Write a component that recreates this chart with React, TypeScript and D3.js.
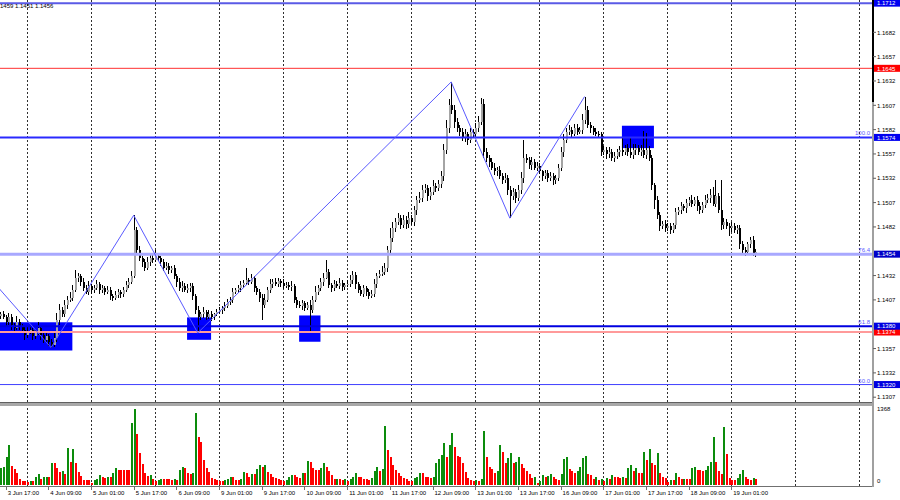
import * as d3 from "d3";

// EURUSD H1, prices kept in pips above 1.1000 (1456 -> 1.1456)
const firstOpen = 1390;
const closes = [
  1392, 1389, 1384, 1389, 1381, 1378, 1384, 1380, 1376, 1371, 1374, 1376, 1370, 1373, 1378, 1371, 1366, 1370, 1364, 1361, 1368, 1386, 1397, 1392,
  1402, 1407, 1409, 1417, 1430, 1432, 1425, 1419, 1415, 1421, 1417, 1419, 1423, 1417, 1419, 1415, 1417, 1411, 1409, 1412, 1415, 1413, 1417, 1422,
  1425, 1432, 1479, 1458, 1450, 1446, 1440, 1446, 1450, 1448, 1452, 1450, 1446, 1440, 1442, 1438, 1440, 1432, 1425, 1419, 1421, 1417, 1419, 1421,
  1411, 1397, 1389, 1392, 1395, 1389, 1393, 1389, 1392, 1395, 1397, 1399, 1401, 1405, 1407, 1415, 1417, 1419, 1422, 1424, 1427, 1425, 1429, 1419,
  1415, 1409, 1402, 1407, 1417, 1423, 1425, 1423, 1426, 1424, 1421, 1422, 1420, 1421, 1407, 1402, 1401, 1404, 1399, 1402, 1397, 1407, 1415, 1419,
  1425, 1430, 1436, 1422, 1419, 1423, 1421, 1424, 1420, 1422, 1423, 1427, 1433, 1423, 1417, 1413, 1419, 1415, 1411, 1413, 1423, 1432, 1434, 1436,
  1440, 1458, 1471, 1481, 1487, 1491, 1484, 1489, 1485, 1491, 1487, 1499, 1510, 1512, 1520, 1522, 1514, 1518, 1524, 1522, 1526, 1534, 1561, 1584,
  1607, 1602, 1590, 1584, 1580, 1573, 1577, 1571, 1580, 1578, 1584, 1590, 1608, 1559, 1553, 1549, 1543, 1539, 1541, 1534, 1530, 1532, 1520, 1514,
  1518, 1512, 1520, 1532, 1553, 1551, 1546, 1549, 1543, 1545, 1539, 1534, 1537, 1532, 1534, 1530, 1532, 1543, 1559, 1571, 1580, 1582, 1578, 1584,
  1580, 1582, 1592, 1602, 1587, 1584, 1580, 1578, 1577, 1559, 1561, 1557, 1559, 1553, 1555, 1559, 1561, 1559, 1563, 1559, 1556, 1561, 1563, 1559,
  1561, 1556, 1561, 1553, 1525, 1510, 1494, 1483, 1485, 1481, 1483, 1479, 1484, 1497, 1499, 1503, 1501, 1507, 1510, 1506, 1510, 1503, 1499, 1505,
  1510, 1512, 1515, 1506, 1514, 1499, 1484, 1487, 1483, 1481, 1483, 1479, 1481, 1464, 1458, 1456, 1464, 1469, 1455, 1456,
];
// wick lengths above / below the body, pips
const upWick = [
  3, 4, 2, 5, 3, 2, 6, 3, 2, 3, 5, 4, 2, 3, 6, 2, 3, 4, 2, 3, 5, 8, 6, 3,
  5, 4, 6, 5, 8, 3, 2, 4, 3, 5, 2, 3, 4, 2, 3, 2, 4, 3, 2, 4, 3, 2, 3, 4,
  4, 5, 15, 3, 4, 2, 3, 5, 4, 3, 6, 3, 2, 3, 4, 3, 2, 3, 2, 4, 5, 3, 4, 3,
  3, 2, 4, 3, 5, 2, 4, 3, 2, 3, 3, 2, 4, 3, 3, 4, 2, 3, 4, 3, 13, 3, 5, 3,
  2, 3, 4, 6, 3, 5, 3, 4, 3, 2, 4, 3, 3, 5, 2, 3, 4, 3, 2, 3, 5, 4, 6, 3,
  4, 5, 12, 3, 2, 4, 3, 5, 3, 2, 4, 6, 4, 3, 2, 4, 3, 2, 3, 4, 5, 3, 4, 6,
  5, 4, 10, 6, 4, 5, 3, 5, 4, 6, 3, 5, 4, 6, 5, 4, 3, 5, 6, 3, 4, 5, 6, 8,
  6, 24, 5, 4, 3, 4, 6, 3, 4, 3, 5, 6, 6, 5, 4, 3, 4, 5, 3, 4, 3, 5, 3, 4,
  4, 3, 5, 6, 18, 4, 3, 5, 3, 4, 3, 2, 4, 3, 4, 3, 3, 4, 5, 6, 4, 5, 3, 4,
  4, 3, 6, 14, 4, 3, 2, 4, 3, 3, 4, 3, 5, 3, 4, 3, 4, 12, 3, 4, 14, 6, 4, 3,
  5, 20, 18, 4, 3, 2, 4, 3, 3, 4, 3, 3, 2, 4, 3, 5, 3, 4, 3, 5, 3, 4, 5, 3,
  5, 4, 6, 8, 16, 3, 31, 4, 3, 3, 4, 3, 3, 3, 4, 3, 2, 3, 4, 3,
];
const dnWick = [
  3, 2, 4, 3, 5, 3, 2, 4, 3, 5, 3, 2, 4, 3, 2, 5, 3, 2, 4, 3, 2, 4, 5, 3,
  3, 4, 2, 3, 2, 5, 4, 3, 2, 3, 4, 3, 2, 4, 3, 3, 2, 4, 3, 2, 3, 4, 3, 2,
  3, 2, 3, 4, 3, 5, 3, 2, 4, 3, 2, 3, 4, 3, 2, 4, 3, 4, 5, 3, 4, 2, 3, 4,
  4, 5, 16, 3, 4, 3, 2, 4, 3, 2, 3, 4, 3, 2, 3, 3, 2, 3, 4, 3, 2, 3, 2, 4,
  3, 4, 16, 3, 2, 3, 4, 2, 3, 4, 3, 2, 3, 4, 3, 3, 2, 4, 3, 2, 24, 3, 2, 3,
  3, 4, 2, 3, 4, 3, 2, 3, 4, 3, 2, 3, 4, 5, 3, 2, 3, 4, 3, 2, 3, 4, 3, 2,
  3, 4, 3, 5, 4, 3, 4, 3, 5, 4, 3, 4, 5, 3, 4, 3, 5, 4, 3, 4, 3, 4, 5, 4,
  5, 4, 6, 4, 5, 3, 4, 5, 3, 4, 5, 4, 3, 6, 4, 5, 3, 4, 5, 3, 4, 3, 5, 23,
  4, 5, 3, 4, 5, 3, 4, 5, 3, 4, 3, 5, 3, 4, 3, 5, 4, 3, 4, 5, 3, 4, 5, 3,
  4, 3, 5, 4, 3, 5, 4, 3, 4, 4, 3, 5, 4, 3, 4, 3, 5, 4, 3, 4, 3, 4, 5, 3,
  4, 3, 4, 3, 5, 10, 4, 5, 3, 4, 3, 4, 3, 4, 3, 4, 3, 5, 3, 4, 3, 5, 4, 3,
  4, 3, 5, 3, 4, 3, 5, 4, 3, 8, 4, 3, 4, 5, 3, 4, 3, 4, 3, 4,
];
const volumes = [
  293, 322, 497, 702, 333, 275, 205, 99, 76, 76, 59, 76, 76, 146, 193, 111, 135, 146, 146, 380, 380, 293, 234, 252,
  193, 644, 410, 626, 392, 234, 158, 88, 88, 88, 41, 88, 99, 170, 146, 123, 146, 135, 216, 293, 263, 263, 263, 263,
  263, 1094, 1328, 895, 556, 369, 216, 158, 170, 99, 76, 88, 111, 111, 99, 99, 88, 99, 88, 263, 322, 293, 216, 193,
  216, 1269, 848, 760, 439, 293, 234, 117, 105, 88, 76, 76, 88, 99, 135, 135, 88, 88, 99, 234, 216, 146, 193, 193,
  275, 351, 322, 351, 234, 193, 146, 123, 99, 88, 76, 88, 135, 176, 176, 135, 117, 205, 205, 427, 410, 293, 263, 263,
  293, 392, 322, 252, 176, 99, 111, 99, 88, 99, 64, 99, 135, 216, 146, 135, 111, 99, 88, 117, 252, 322, 252, 275,
  1035, 614, 486, 345, 263, 205, 158, 117, 111, 76, 64, 117, 146, 216, 216, 146, 135, 117, 146, 380, 450, 527, 731, 486,
  700, 907, 661, 509, 497, 392, 234, 117, 88, 76, 88, 76, 99, 948, 497, 310, 275, 216, 246, 702, 585, 380, 468, 556,
  380, 410, 497, 369, 293, 252, 193, 117, 146, 41, 76, 176, 146, 158, 193, 146, 111, 88, 193, 450, 497, 275, 252, 205,
  246, 322, 468, 509, 193, 176, 111, 135, 88, 99, 76, 117, 111, 170, 135, 135, 117, 135, 123, 293, 351, 252, 293, 205,
  205, 585, 439, 626, 392, 351, 556, 216, 135, 117, 59, 88, 88, 216, 146, 99, 111, 99, 99, 304, 322, 263, 263, 252,
  263, 333, 410, 837, 404, 252, 193, 1024, 544, 117, 88, 88, 117, 193, 263, 146, 111, 88, 123, 111,
];
const volumeMax = 1368;

const timeLabels = [
  "3 Jun 17:00", "4 Jun 09:00", "5 Jun 01:00", "5 Jun 17:00", "6 Jun 09:00", "9 Jun 01:00",
  "9 Jun 17:00", "10 Jun 09:00", "11 Jun 01:00", "11 Jun 17:00", "12 Jun 09:00", "13 Jun 01:00",
  "13 Jun 17:00", "16 Jun 09:00", "17 Jun 01:00", "17 Jun 17:00", "18 Jun 09:00", "19 Jun 01:00",
];
const priceTicks = [1707, 1682, 1657, 1632, 1607, 1582, 1557, 1532, 1507, 1482, 1457, 1432, 1407, 1382, 1357, 1332, 1307];

const levelPrices = [1712, 1645, 1574, 1454, 1380, 1374, 1320];
const levelKinds = ["top", "resist", "fib100", "fib76", "fib61", "support", "fib50"];
const fiboTexts = ["", "", "100.0", "76.4", "61.8", "", "50.0"];

const zigzagBars = [-6, 19, 50, 74, 169, 191, 219];
const zigzagPrices = [1436, 1358, 1494, 1373, 1631, 1491, 1616];

const boxBars = [[-2, 27], [70, 79], [112, 120], [233, 245]];
const boxPrices = [[1384, 1355], [1389, 1366], [1391, 1364], [1586, 1563]];

const header = "1459 1.1451 1.1456";

const levelStyle: Record<string, { stroke: string; width: number; box: string }> = {
  top: { stroke: "#5a5ae6", width: 2, box: "#0000f0" },
  resist: { stroke: "#ff3030", width: 1, box: "#ff0000" },
  fib100: { stroke: "#2a2aff", width: 2, box: "#0000f0" },
  fib76: { stroke: "#a8a8ff", width: 3, box: "#0000c8" },
  fib61: { stroke: "#0000e0", width: 2, box: "#0000e0" },
  support: { stroke: "#ff9a9a", width: 2, box: "#ff0000" },
  fib50: { stroke: "#4040ff", width: 1, box: "#0000e0" },
};

const FONT = "'Liberation Sans', Arial, sans-serif";
const AXIS_X = 873;
const PRICE_BOTTOM = 402;
const VOL_TOP = 406;
const VOL_BASE = 485;

const fmt = (p: number) => (1 + p / 10000).toFixed(4);

export default function App() {
  const n = closes.length;
  const x = d3.scaleLinear().domain([0, n - 1]).range([0.33, 755.3]);
  const y = d3.scaleLinear().domain([1307, 1707]).range([397.2, 8]);
  const yv = d3.scaleLinear().domain([0, volumeMax]).range([VOL_BASE, VOL_TOP + 1]);

  const candles = closes.map((c, i) => {
    const o = i === 0 ? firstOpen : closes[i - 1];
    return { i, o, c, h: Math.max(o, c) + upWick[i], l: Math.min(o, c) - dnWick[i] };
  });

  const gridBars = d3.range(10, n + 60, 24).filter((b) => x(b) < 860);
  const labelBars = timeLabels.map((_, k) => 2 + 16 * k);

  const zigzag = d3
    .line<number>()
    .x((_, k) => x(zigzagBars[k]))
    .y((p) => y(p));

  const levelYs = levelPrices.map((p) => y(p));
  const freeTicks = priceTicks.filter((p) => levelYs.every((ly) => Math.abs(ly - y(p)) > 6));

  const boxOrder = d3.range(levelPrices.length).reverse();

  return (
    <div style={{ position: "absolute", left: 0, top: 0 }}>
      <svg width={900} height={500} style={{ display: "block", background: "#fff" }} fontFamily={FONT}>
        <defs>
          <clipPath id="price-clip">
            <rect x={0} y={0} width={AXIS_X - 1} height={PRICE_BOTTOM} />
          </clipPath>
          <clipPath id="vol-clip">
            <rect x={0} y={VOL_TOP} width={AXIS_X - 1} height={VOL_BASE - VOL_TOP + 1} />
          </clipPath>
        </defs>

        {/* dashed day grid through both panels */}
        {gridBars.map((b) => (
          <line key={`g${b}`} x1={Math.round(x(b)) + 0.5} x2={Math.round(x(b)) + 0.5} y1={0} y2={486}
            stroke="#303030" strokeDasharray="2,2" strokeWidth={1} />
        ))}

        <g clipPath="url(#price-clip)">
          {boxBars.map((bb, k) => (
            <rect key={`b${k}`} x={x(bb[0])} y={y(boxPrices[k][0])} width={x(bb[1]) - x(bb[0])}
              height={y(boxPrices[k][1]) - y(boxPrices[k][0])} fill="#0000ff" />
          ))}

          <g shapeRendering="crispEdges">
            {candles.map((d) => {
              const cx = Math.round(x(d.i));
              const top = y(Math.max(d.o, d.c));
              const bot = y(Math.min(d.o, d.c));
              return (
                <g key={`c${d.i}`}>
                  <line x1={cx + 0.5} x2={cx + 0.5} y1={y(d.h)} y2={y(d.l)} stroke="#000" strokeWidth={1} />
                  <rect x={cx - 0.5} y={top} width={2} height={Math.max(1, bot - top)}
                    fill={d.c >= d.o ? "#a4a4a4" : "#000"} />
                </g>
              );
            })}
          </g>

          {levelPrices.map((p, k) => {
            const st = levelStyle[levelKinds[k]];
            return (
              <line key={`l${k}`} x1={0} x2={AXIS_X} y1={y(p)} y2={y(p)} stroke={st.stroke} strokeWidth={st.width} />
            );
          })}

          <path d={zigzag(zigzagPrices) ?? ""} fill="none" stroke="#5a5aff" strokeWidth={1} />

          {levelPrices.map((p, k) =>
            fiboTexts[k] ? (
              <text key={`f${k}`} x={870} y={y(p) - 2} fontSize={6} textAnchor="end" fill="#5a5aff">
                {fiboTexts[k]}
              </text>
            ) : null
          )}
        </g>

        <text x={0} y={8} fontSize={6} fill="#000">{header}</text>

        {/* panel separator */}
        <rect x={0} y={PRICE_BOTTOM} width={AXIS_X} height={VOL_TOP - PRICE_BOTTOM} fill="#a8a8a8" />
        <line x1={0} x2={AXIS_X} y1={PRICE_BOTTOM + 0.5} y2={PRICE_BOTTOM + 0.5} stroke="#606060" />

        <g clipPath="url(#vol-clip)" shapeRendering="crispEdges">
          {volumes.map((v, i) => (
            <rect key={`v${i}`} x={Math.round(x(i)) - 0.5} y={yv(v)} width={2} height={VOL_BASE - yv(v)}
              fill={i > 0 && v > volumes[i - 1] ? "#0c8c0c" : i === 0 ? "#0c8c0c" : "#ff0000"} />
          ))}
        </g>

        {/* bottom time axis */}
        <line x1={0} x2={AXIS_X} y1={486.5} y2={486.5} stroke="#707070" strokeWidth={1} />
        {labelBars.map((b, k) => (
          <g key={`t${k}`}>
            <line x1={Math.round(x(b)) + 0.5} x2={Math.round(x(b)) + 0.5} y1={487} y2={490} stroke="#707070" />
            <text x={x(b) + 2} y={494.5} fontSize={6} fill="#000">{timeLabels[k]}</text>
          </g>
        ))}

        {/* right price axis */}
        <line x1={AXIS_X} x2={AXIS_X} y1={0} y2={PRICE_BOTTOM + 4} stroke="#a0a0a0" strokeWidth={2} />
        <line x1={AXIS_X} x2={AXIS_X} y1={0} y2={102} stroke="#000" strokeWidth={2} />
        <line x1={AXIS_X} x2={AXIS_X} y1={VOL_TOP} y2={487} stroke="#a0a0a0" strokeWidth={2} />
        {freeTicks.map((p) => (
          <g key={`p${p}`}>
            <line x1={AXIS_X} x2={AXIS_X + 3} y1={y(p)} y2={y(p)} stroke="#606060" />
            <text x={877} y={y(p) + 2.2} fontSize={6} fill="#000">{fmt(p)}</text>
          </g>
        ))}
        {boxOrder.map((k) => {
          const st = levelStyle[levelKinds[k]];
          const ly = y(levelPrices[k]);
          return (
            <g key={`lb${k}`}>
              <rect x={AXIS_X + 1} y={ly - 3.5} width={900 - AXIS_X - 1} height={7} fill={st.box} />
              <text x={877} y={ly + 2.2} fontSize={6} fill="#fff">{fmt(levelPrices[k])}</text>
            </g>
          );
        })}

        {/* volume axis */}
        <text x={877} y={411} fontSize={6} fill="#000">{volumeMax}</text>
        <text x={877} y={483} fontSize={6} fill="#000">0</text>
      </svg>
    </div>
  );
}
